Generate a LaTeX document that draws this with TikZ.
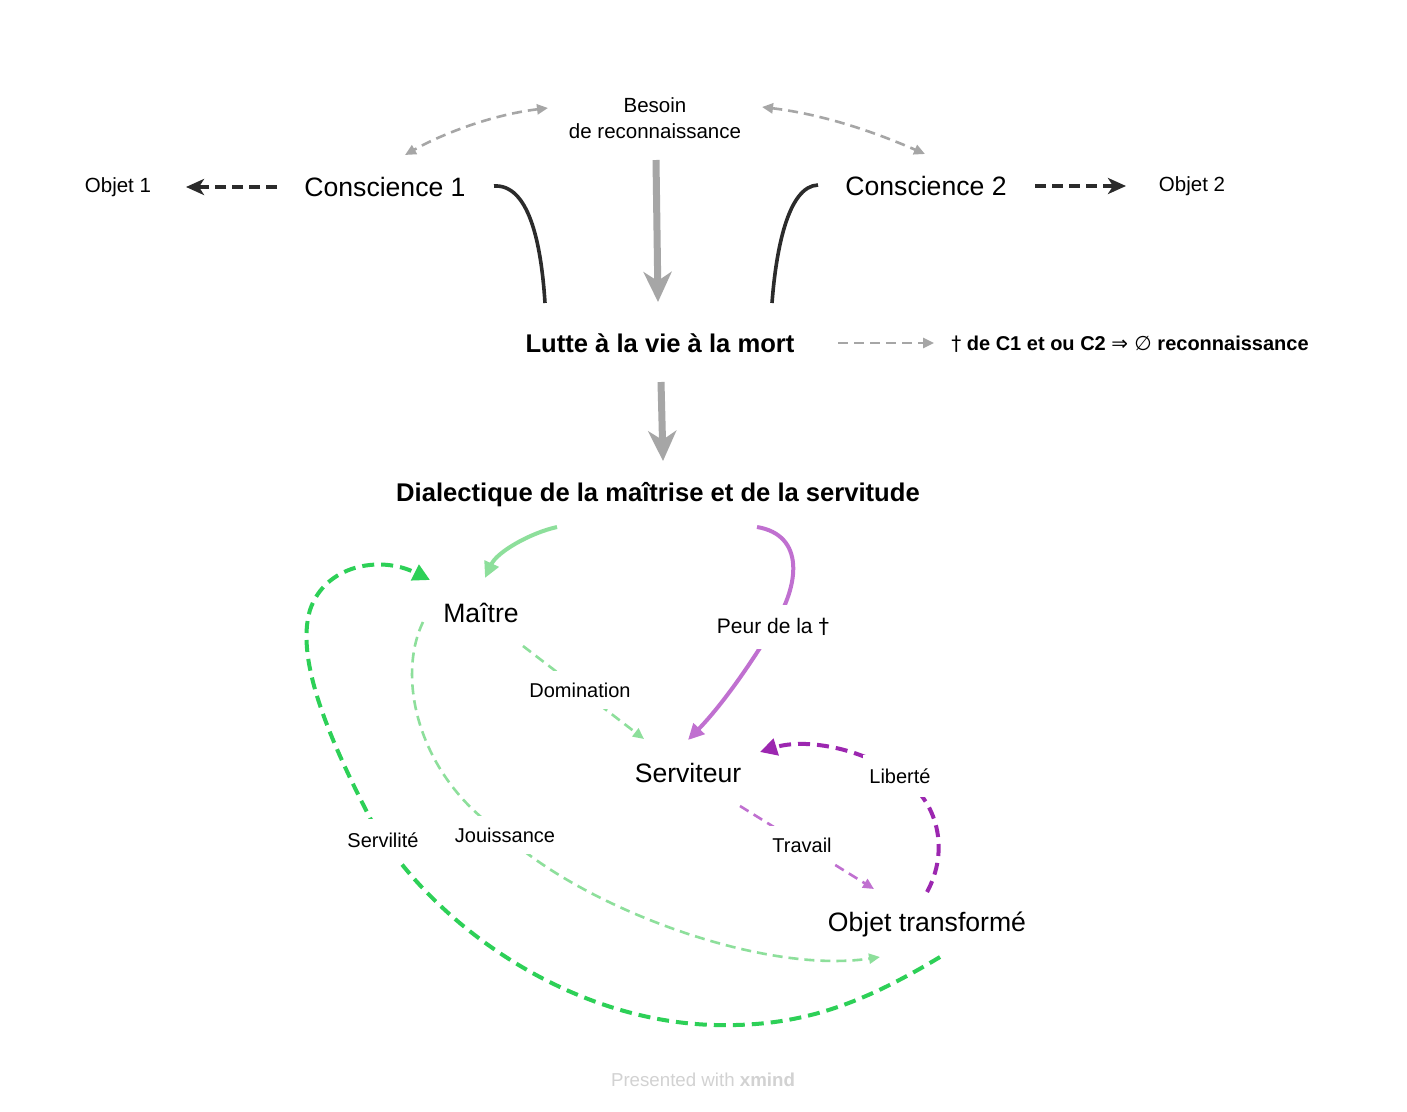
\documentclass[tikz,border=0pt]{standalone}
\usepackage{fontspec}
\setmainfont{Liberation Sans}
\newfontfamily\symf{DejaVu Sans}
\usetikzlibrary{arrows.meta}
\definecolor{gry}{HTML}{A6A6A6}
\definecolor{blk}{HTML}{2B2B2B}
\definecolor{lgreen}{HTML}{8DDF9B}
\definecolor{bgreen}{HTML}{2DD057}
\definecolor{lpurple}{HTML}{C070D0}
\definecolor{dpurple}{HTML}{9C27B0}
\definecolor{wm}{HTML}{D2D2D2}
\tikzset{
  big/.style={inner sep=0pt, font=\fontsize{26.6}{30}\selectfont},
  bigb/.style={inner sep=0pt, font=\fontsize{25.6}{30}\selectfont\bfseries},
  small/.style={inner sep=0pt, font=\fontsize{20.5}{26}\selectfont},
  lab/.style={inner xsep=4pt, inner ysep=10pt, fill=white, font=\fontsize{20}{22}\selectfont},
  greydash/.style={draw=gry, line width=2.6pt, dash pattern=on 10pt off 6pt},
  thickgrey/.style={draw=gry, line width=7pt, -{Stealth[length=30pt,width=28pt,inset=9pt]}},
  blkcurve/.style={draw=blk, line width=3.6pt},
  blkdash/.style={draw=blk, line width=3.6pt, dash pattern=on 11pt off 6pt, -{Stealth[length=18pt,width=16pt,inset=5pt]}},
  gtip/.style={-{Triangle[length=11pt,width=10pt]}},
}
\begin{document}
\begin{tikzpicture}[x=1pt,y=-1pt]
\useasboundingbox[fill=white] (0,0) rectangle (1407,1111);

% nodes
\node[small, align=center] (besoin) at (655,118) {Besoin\\de reconnaissance};
\node[big] (c1) at (385,187) {Conscience 1};
\node[big] (c2) at (926,186) {Conscience 2};
\node[small] (o1) at (118,187) {Objet 1};
\node[small] (o2) at (1192,186) {Objet 2};
\node[bigb] (lutte) at (660,343) {Lutte à la vie à la mort};
\node[inner sep=0pt, font=\fontsize{20}{24}\selectfont\bfseries] (note) at (1130,344) {{\symf\mdseries †} de C1 et ou C2 {\symf\mdseries ⇒ ∅} reconnaissance};
\node[bigb] (dial) at (658,495) {Dialectique de la maîtrise et de la servitude};
\node[big] (maitre) at (481,613) {Maître};
\node[big] (serv) at (688,773) {Serviteur};
\node[big] (objt) at (927,924) {Objet transformé};
\node[inner sep=0pt, text=wm, font=\fontsize{18.7}{22}\selectfont] (wmk) at (703,1080) {Presented with \textbf{xmind}};

% Besoin <-> consciences
\draw[greydash, {Triangle[length=11pt,width=10pt]}-{Triangle[length=11pt,width=10pt]}]
  ([shift={(-107,-10)}]besoin.center) .. controls (490,115) and (440,135) .. ([shift={(20,-32)}]c1.center);
\draw[greydash, {Triangle[length=11pt,width=10pt]}-{Triangle[length=11pt,width=10pt]}]
  ([shift={(107,-11)}]besoin.center) .. controls (820,114) and (870,130) .. ([shift={(-1,-32)}]c2.center);

% thick grey arrows
\draw[thickgrey] ([shift={(1,42)}]besoin.center) -- ([shift={(-2,-41)}]lutte.center);
\draw[thickgrey] ([shift={(1,39)}]lutte.center) -- ([shift={(5,-34)}]dial.center);

% black curves to Lutte
\draw[blkcurve] ([shift={(109,-1)}]c1.center) .. controls (528,184) and (541,240) .. ([shift={(-115,-40)}]lutte.center);
\draw[blkcurve] ([shift={(-108,-1)}]c2.center) .. controls (788,186) and (776,250) .. ([shift={(112,-40)}]lutte.center);

% objets
\draw[blkdash] ([shift={(-108,0)}]c1.center) -- ([shift={(68,0)}]o1.center);
\draw[blkdash] ([shift={(109,0)}]c2.center) -- ([shift={(-66,0)}]o2.center);

% Lutte -> note
\draw[greydash, -{Triangle[length=11pt,width=10pt]}] ([shift={(178,0)}]lutte.center) -- ([shift={(-196,-1)}]note.center);

% Dialectique -> Maitre
\draw[draw=lgreen, line width=4pt, -{Triangle[length=16pt,width=15pt]}]
  ([shift={(-101,32)}]dial.center) .. controls (530,533) and (497,552) .. ([shift={(4,-35)}]maitre.center);

% Dialectique -> Serviteur (Peur)
\draw[draw=lpurple, line width=4pt, -{Triangle[length=16pt,width=15pt]}]
  ([shift={(99,32)}]dial.center) .. controls (805,535) and (800,585) .. (773,627)
  .. controls (750,665) and (722,705) .. ([shift={(0,-33)}]serv.center);
\node[lab, inner ysep=13pt, font=\fontsize{21}{22}\selectfont] (peur) at (773,627) {Peur de la {\symf †}};

% Maitre -> Serviteur (Domination)
\draw[draw=lgreen, line width=2.6pt, dash pattern=on 10pt off 6pt, gtip]
  ([shift={(42,33)}]maitre.center) -- ([shift={(-44,-34)}]serv.center);
\node[lab, inner ysep=12pt] (dom) at (580,690) {Domination};

% Serviteur -> Objet (Travail)
\draw[draw=lpurple, line width=2.6pt, dash pattern=on 10pt off 6pt, gtip]
  ([shift={(52,33)}]serv.center) -- ([shift={(-53,-35)}]objt.center);
\node[lab, inner ysep=12pt] (trav) at (802,845) {Travail};

% Objet -> Serviteur (Liberte)
\draw[draw=dpurple, line width=4pt, dash pattern=on 12pt off 7pt, -{Triangle[length=17pt,width=17pt]}]
  ([shift={(0,-32)}]objt.center) .. controls (950,850) and (938,800) .. (900,776)
  .. controls (862,748) and (805,738) .. ([shift={(72,-21)}]serv.center);
\node[lab, inner ysep=14pt, inner xsep=6pt] (lib) at (900,776) {Liberté};

% Maitre -> Objet (Jouissance)
\draw[draw=lgreen, line width=2.6pt, dash pattern=on 10pt off 6pt, gtip]
  ([shift={(-58,9)}]maitre.center) .. controls (395,680) and (420,780) .. (505,835)
  .. controls (580,905) and (760,975) .. ([shift={(-47,33)}]objt.center);
\node[lab, inner ysep=12pt] (jou) at (505,835) {Jouissance};

% Objet -> Maitre (Servilite)
\draw[draw=bgreen, line width=4pt, dash pattern=on 12pt off 7pt, -{Triangle[length=17pt,width=17pt]}]
  ([shift={(13,33)}]objt.center) .. controls (860,1005) and (800,1027) .. (715,1025)
  .. controls (590,1022) and (470,950) .. (400,862) -- (383,840) -- (370,818)
  .. controls (330,740) and (295,660) .. (310,610)
  .. controls (325,565) and (380,555) .. ([shift={(-51,-33)}]maitre.center);
\node[lab, inner ysep=14pt] (servi) at (383,840) {Servilité};

\end{tikzpicture}
\end{document}
